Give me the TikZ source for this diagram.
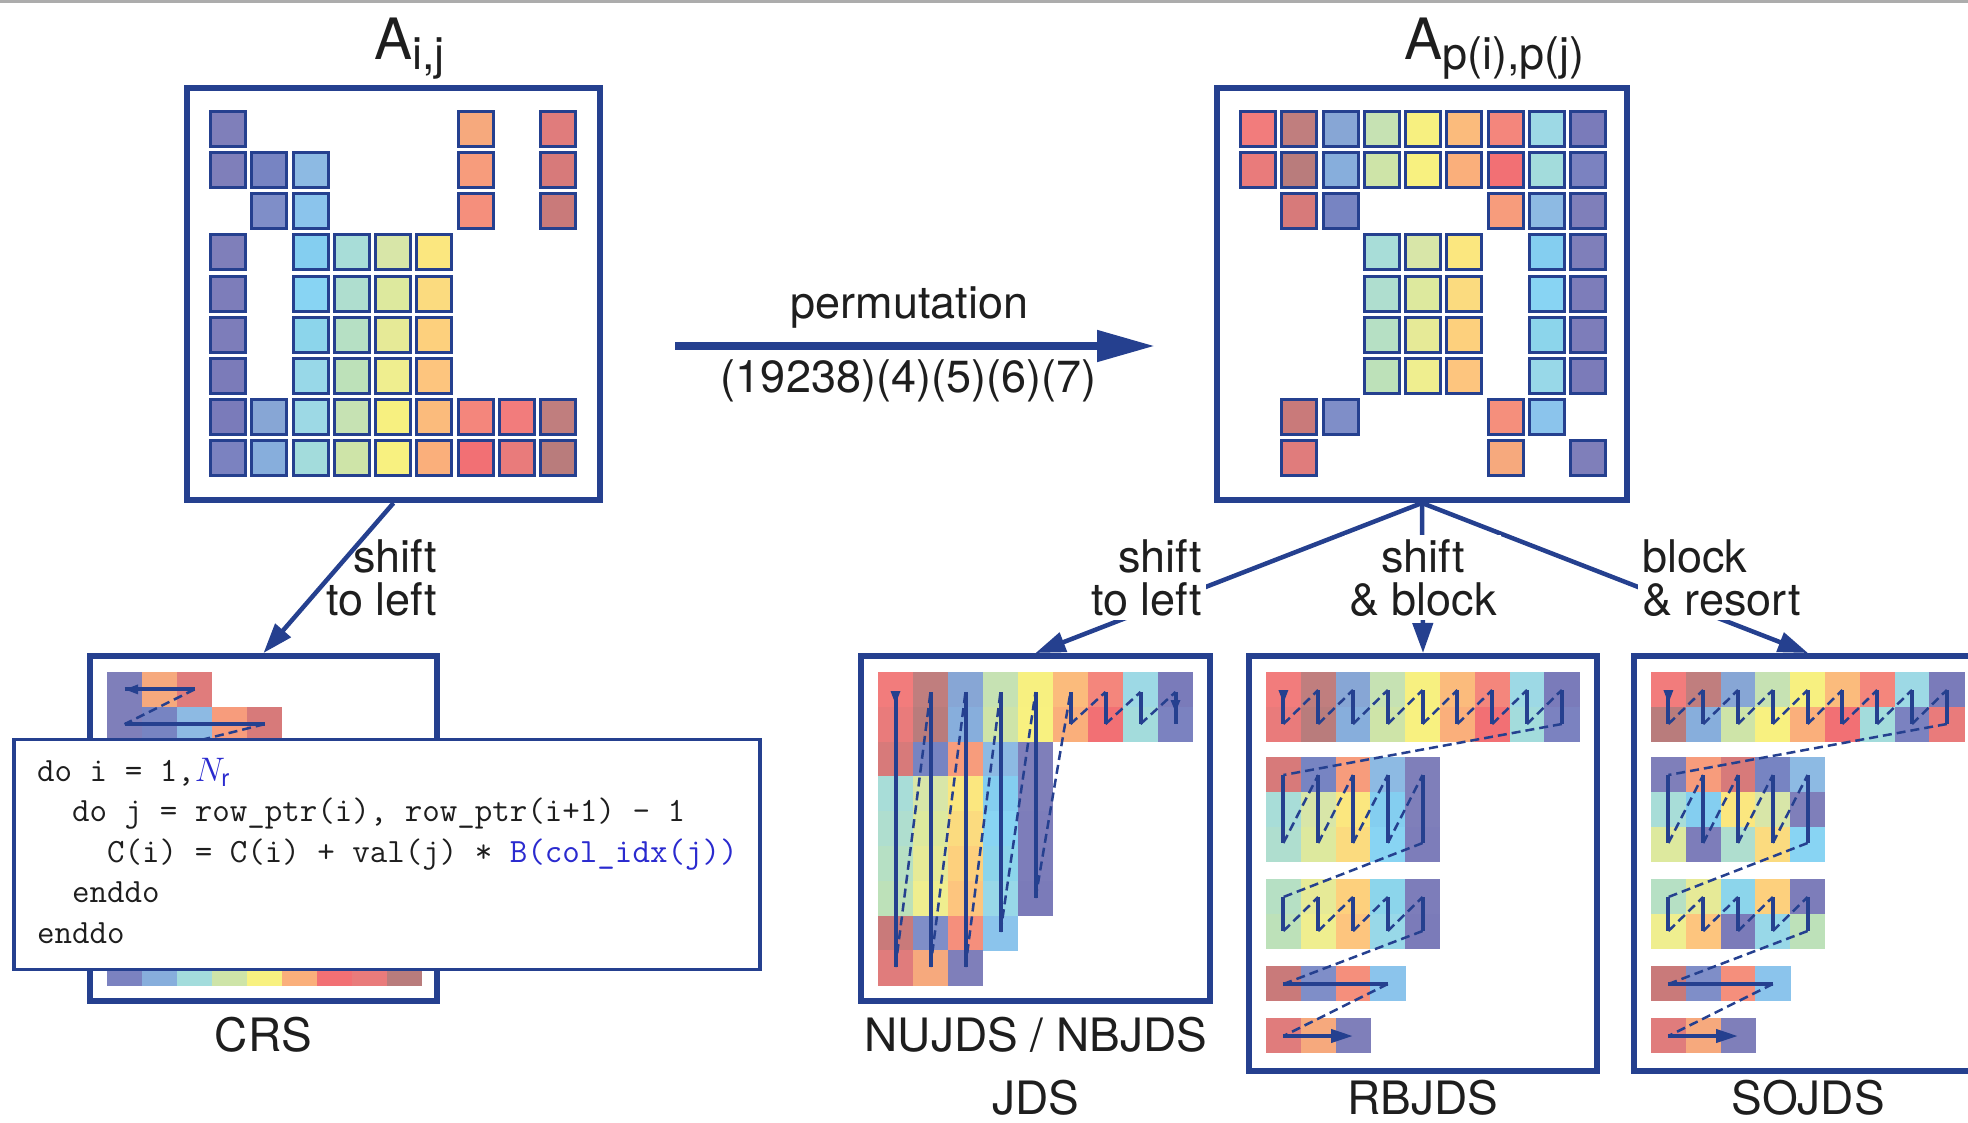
\documentclass[tikz,border=0pt]{standalone}
\usepackage{fix-cm}
\usepackage{fontspec}
\setmainfont{TeX Gyre Heros}
\usetikzlibrary{arrows.meta}

% frame and trace colours
\definecolor{navy}{HTML}{25408F}
\definecolor{codeblue}{HTML}{2A2ACF}
\definecolor{ink}{HTML}{1E1E1E}
% entry colours, named c<row><column> after the original matrix
\definecolor{c00}{HTML}{7F7FBA}\definecolor{c06}{HTML}{F6A97D}\definecolor{c08}{HTML}{E07C7C}
\definecolor{c10}{HTML}{7F7FBA}\definecolor{c11}{HTML}{7784C2}\definecolor{c12}{HTML}{8DBAE3}
\definecolor{c16}{HTML}{F79C7C}\definecolor{c18}{HTML}{D77A7A}
\definecolor{c21}{HTML}{7F8EC8}\definecolor{c22}{HTML}{8BC4EC}\definecolor{c26}{HTML}{F58F7C}
\definecolor{c28}{HTML}{C97A7A}
\definecolor{c30}{HTML}{7F7FBA}\definecolor{c32}{HTML}{84CEF0}\definecolor{c33}{HTML}{A8DDD8}
\definecolor{c34}{HTML}{D8E6A8}\definecolor{c35}{HTML}{FBE77F}
\definecolor{c40}{HTML}{7D7DBA}\definecolor{c42}{HTML}{88D4F3}\definecolor{c43}{HTML}{AFDECF}
\definecolor{c44}{HTML}{DDE99E}\definecolor{c45}{HTML}{FBDB7F}
\definecolor{c50}{HTML}{7D7DBA}\definecolor{c52}{HTML}{8CD5EB}\definecolor{c53}{HTML}{B6E0C4}
\definecolor{c54}{HTML}{E6EA97}\definecolor{c55}{HTML}{FDD07D}
\definecolor{c60}{HTML}{7B7BB9}\definecolor{c62}{HTML}{98D8E8}\definecolor{c63}{HTML}{BDE1B9}
\definecolor{c64}{HTML}{EFEE8F}\definecolor{c65}{HTML}{FDC57E}
\definecolor{c70}{HTML}{7A7BBA}\definecolor{c71}{HTML}{87A6D5}\definecolor{c72}{HTML}{9DD9E5}
\definecolor{c73}{HTML}{C6E2B3}\definecolor{c74}{HTML}{F7F080}\definecolor{c75}{HTML}{FBBB7C}
\definecolor{c76}{HTML}{F4867C}\definecolor{c77}{HTML}{F27C7C}\definecolor{c78}{HTML}{C07E7E}
\definecolor{c80}{HTML}{7B82C0}\definecolor{c81}{HTML}{87AEDC}\definecolor{c82}{HTML}{A3DCDC}
\definecolor{c83}{HTML}{CEE4A8}\definecolor{c84}{HTML}{F8F180}\definecolor{c85}{HTML}{FAAF7B}
\definecolor{c86}{HTML}{F27074}\definecolor{c87}{HTML}{E97B7B}\definecolor{c88}{HTML}{B97C7C}

% traversal of the blocked storage schemes (RBJDS / SOJDS share it)
\newcommand\blocktrace{%
  \foreach \k in {0,...,8} \draw[solidtrace] ({1283.4+34.8*\k},690) -- ++(0,34);
  \foreach \k in {0,...,7} \draw[dashtrace] ({1283.4+34.8*\k},724) -- ({1318.2+34.8*\k},690);
  \draw[dashtrace] (1561.8,724) -- (1283.4,775);
  \foreach \k in {0,...,4} \draw[solidtrace] ({1283.4+34.8*\k},775) -- ++(0,68);
  \foreach \k in {0,...,3} \draw[dashtrace] ({1283.4+34.8*\k},843) -- ({1318.2+34.8*\k},775);
  \draw[dashtrace] (1422.6,843) -- (1283.4,897);
  \foreach \k in {0,...,4} \draw[solidtrace] ({1283.4+34.8*\k},897) -- ++(0,34);
  \foreach \k in {0,...,3} \draw[dashtrace] ({1283.4+34.8*\k},931) -- ({1318.2+34.8*\k},897);
  \draw[dashtrace] (1422.6,931) -- (1283.4,984);
  \draw[solidtrace] (1283.4,984) -- (1387.8,984);
  \draw[dashtrace] (1387.8,984) -- (1283.4,1036);
  \draw[solidtrace,-{Triangle[length=22pt,width=13pt]}] (1283.4,1036) -- (1353,1036);
  \fill[navy] (1278.4,690) -- (1288.4,690) -- (1283.4,703) -- cycle;
}

\begin{document}
\begin{tikzpicture}[x=1pt,y=-1pt,
  frame/.style={draw=navy,line width=6pt,fill=none,inner sep=0pt},
  cellline/.style={draw=navy,line width=3pt},
  solidtrace/.style={draw=navy,line width=4pt},
  dashtrace/.style={draw=navy,line width=2.5pt,dash pattern=on 9pt off 5pt},
  link/.style={draw=navy,line width=4.5pt,-{Triangle[length=30pt,width=20pt]}},
  lbl/.style={font=\fontsize{45}{43}\selectfont,text=ink,inner sep=0pt},
  schemename/.style={font=\fontsize{46}{46}\selectfont,text=ink,inner sep=0pt,anchor=base},
  brl/.style={lbl,fill=white,inner sep=4pt},
  codeline/.style={font=\ttfamily\fontsize{34}{34}\selectfont\addfontfeatures{FakeBold=0.6},
    text=ink,inner sep=0pt,anchor=base west}]

\useasboundingbox (0,0) rectangle (1968,1122);
\fill[gray!65] (0,0) rectangle (1968,2.5);

% ---------- original matrix A_{i,j}
\node[frame,minimum width=413pt,minimum height=412pt] (Aij) at (393.5,294) {};
\foreach \rr/\cl in {0/{0,6,8},1/{0,1,2,6,8},2/{1,2,6,8},3/{0,2,3,4,5},4/{0,2,3,4,5},
    5/{0,2,3,4,5},6/{0,2,3,4,5},7/{0,1,2,3,4,5,6,7,8},8/{0,1,2,3,4,5,6,7,8}}
  \foreach \cc in \cl
    \filldraw[cellline,fill=c\rr\cc] ({209+41.25*\cc+1.5},{110+41.15*\rr+1.5}) rectangle ++(35,35);
\node[anchor=base west,inner sep=0pt,text=ink,font=\fontsize{57}{57}\selectfont] (tA) at (374,59)
  {A\raisebox{-10.5pt}{\fontsize{45}{45}\selectfont i,j}};

% ---------- permuted matrix A_{p(i),p(j)}
\node[frame,minimum width=410pt,minimum height=412pt] (Ap) at (1422,294) {};
\foreach \nr/\orow/\pl in {0/7/{0/7,1/8,2/1,3/3,4/4,5/5,6/6,7/2,8/0},1/8/{0/7,1/8,2/1,3/3,4/4,5/5,6/6,7/2,8/0},
    2/1/{1/8,2/1,6/6,7/2,8/0},3/3/{3/3,4/4,5/5,7/2,8/0},4/4/{3/3,4/4,5/5,7/2,8/0},
    5/5/{3/3,4/4,5/5,7/2,8/0},6/6/{3/3,4/4,5/5,7/2,8/0},7/2/{1/8,2/1,6/6,7/2},8/0/{1/8,6/6,8/0}}
  \foreach \nc/\ocol in \pl
    \filldraw[cellline,fill=c\orow\ocol] ({1239+41.25*\nc+1.5},{110+41.15*\nr+1.5}) rectangle ++(35,35);
\node[anchor=base west,inner sep=0pt,text=ink,font=\fontsize{57}{57}\selectfont] (tAp) at (1404,59)
  {A\raisebox{-10.5pt}{\fontsize{45}{45}\selectfont p(i),p(j)}};

% ---------- permutation arrow
\coordinate (permL) at (675,346);
\coordinate (permR) at (1155,346);
\draw[draw=navy,line width=8pt,-{Triangle[length=58pt,width=30pt]}] (permL) -- (permR);
\node[lbl,anchor=base] (permtxt) at (909.5,318) {permutation};
\node[lbl,anchor=base] (cycles) at (908.5,392) {(19238)(4)(5)(6)(7)};

% ---------- CRS
\node[frame,minimum width=347pt,minimum height=345pt] (crs) at (263.5,828.5) {};
\foreach \rr/\cl in {0/{0,6,8},1/{0,1,2,6,8},2/{1,2,6,8},3/{0,2,3,4,5},4/{0,2,3,4,5},
    5/{0,2,3,4,5},6/{0,2,3,4,5},7/{0,1,2,3,4,5,6,7,8},8/{0,1,2,3,4,5,6,7,8}}
  \foreach \cc [count=\k from 0] in \cl
    \fill[fill=c\rr\cc] ({107+35*\k},{672+34.8*\rr}) rectangle ++(35.3,35.1);
\foreach \rr/\n in {0/3,1/5,2/4,3/5,4/5,5/5,6/5,7/9,8/9}
  \draw[solidtrace] (124.5,{689.4+34.8*\rr}) -- ({124.5+35*(\n-1)},{689.4+34.8*\rr});
\foreach \rr/\n in {0/3,1/5,2/4,3/5,4/5,5/5,6/5,7/9}
  \draw[dashtrace] ({124.5+35*(\n-1)},{689.4+34.8*\rr}) -- (124.5,{724.2+34.8*\rr});
\fill[navy] (125,689.4) -- (138,684.4) -- (138,694.4) -- cycle;
\draw[link] (Aij.south) -- (crs.north);
\node[lbl,anchor=north east,align=right] (lblcrs) at (437,539) {shift\\to left};
\node[schemename] (namecrs) at (263.5,1051) {CRS};

% ---------- JDS
\node[frame,minimum width=349pt,minimum height=345pt] (jds) at (1035.5,828.5) {};
\foreach \nr/\orow/\pl in {0/7/{0/7,1/8,2/1,3/3,4/4,5/5,6/6,7/2,8/0},1/8/{0/7,1/8,2/1,3/3,4/4,5/5,6/6,7/2,8/0},
    2/1/{1/8,2/1,6/6,7/2,8/0},3/3/{3/3,4/4,5/5,7/2,8/0},4/4/{3/3,4/4,5/5,7/2,8/0},
    5/5/{3/3,4/4,5/5,7/2,8/0},6/6/{3/3,4/4,5/5,7/2,8/0},7/2/{1/8,2/1,6/6,7/2},8/0/{1/8,6/6,8/0}}
  \foreach \nc/\ocol [count=\k from 0] in \pl
    \fill[fill=c\orow\ocol] ({878+35*\k},{672+34.8*\nr}) rectangle ++(35.3,35.1);
\foreach \k/\bot in {0/967,1/967,2/967,3/932,4/898,5/724,6/724,7/724,8/724}
  \draw[solidtrace] ({895.5+35*\k},692) -- ({895.5+35*\k},\bot);
\foreach \k/\bot in {0/967,1/967,2/967,3/932,4/898,5/724,6/724,7/724}
  \draw[dashtrace] ({895.5+35*\k},\bot) -- ({930.5+35*\k},692);
\fill[navy] (890.5,691) -- (900.5,691) -- (895.5,704) -- cycle;
\fill[navy] (1170.5,700) -- (1180.5,700) -- (1175.5,712) -- cycle;
\node[schemename] (namenu) at (1036,1051) {NUJDS / NBJDS};
\node[schemename] (namejds) at (1036,1114) {JDS};

% ---------- RBJDS
\node[frame,minimum width=348pt,minimum height=415pt] (rb) at (1423,863.5) {};
\foreach \nr/\yy/\orow/\pl in {0/672/7/{0/7,1/8,2/1,3/3,4/4,5/5,6/6,7/2,8/0},1/706.8/8/{0/7,1/8,2/1,3/3,4/4,5/5,6/6,7/2,8/0},
    2/757/1/{1/8,2/1,6/6,7/2,8/0},3/791.8/3/{3/3,4/4,5/5,7/2,8/0},4/826.6/4/{3/3,4/4,5/5,7/2,8/0},
    5/879/5/{3/3,4/4,5/5,7/2,8/0},6/913.8/6/{3/3,4/4,5/5,7/2,8/0},7/966/2/{1/8,2/1,6/6,7/2},8/1018/0/{1/8,6/6,8/0}}
  \foreach \nc/\ocol [count=\k from 0] in \pl
    \fill[fill=c\orow\ocol] ({1266+34.8*\k},\yy) rectangle ++(35.1,35.1);
\blocktrace
\node[schemename] (namerb) at (1423,1114) {RBJDS};

% ---------- SOJDS
\node[frame,minimum width=348pt,minimum height=415pt] (so) at (1808,863.5) {};
\foreach \yy/\cl in {672/{c77,c78,c71,c73,c74,c75,c76,c72,c70},706.8/{c88,c81,c83,c84,c85,c86,c82,c80,c87},
    757/{c10,c16,c18,c11,c12},791.8/{c33,c32,c35,c34,c30},826.6/{c44,c40,c43,c45,c42},
    879/{c53,c54,c52,c55,c50},913.8/{c64,c65,c60,c62,c63},966/{c28,c21,c26,c22},1018/{c08,c06,c00}}
  \foreach \cname [count=\k from 0] in \cl
    \fill[fill=\cname] ({1651+34.8*\k},\yy) rectangle ++(35.1,35.1);
\begin{scope}[xshift=385pt]
  \blocktrace
\end{scope}
\node[schemename] (nameso) at (1808,1114) {SOJDS};

% ---------- branches from the permuted matrix
\draw[link] (Ap.south) -- (jds.north);
\draw[link] (Ap.south) -- (rb.north);
\draw[link] (Ap.south) -- (so.north);
\node[brl,anchor=north east,align=right] (lbljds) at (1206,535) {shift\\to left};
\node[brl,anchor=north,align=center] (lblrb) at (1423,535) {shift\\\& block};
\node[brl,anchor=north west,align=left] (lblso) at (1638,535) {block\\\& resort};

% ---------- CRS kernel
\node[draw=navy,line width=3.5pt,fill=white,minimum width=746pt,minimum height=230pt,inner sep=0pt] (code) at (387,854.5) {};
\node[codeline] (code1) at (37,781) {do i = 1,{\color{codeblue}$N_\mathrm{r}$}};
\node[codeline] (code2) at (72,821.6) {do j = row\_ptr(i), row\_ptr(i+1) - 1};
\node[codeline] (code3) at (107,862.2) {C(i) = C(i) + val(j) * {\color{codeblue}B(col\_idx(j))}};
\node[codeline] (code4) at (72,902.8) {enddo};
\node[codeline] (code5) at (37,943.4) {enddo};
\end{tikzpicture}
\end{document}
